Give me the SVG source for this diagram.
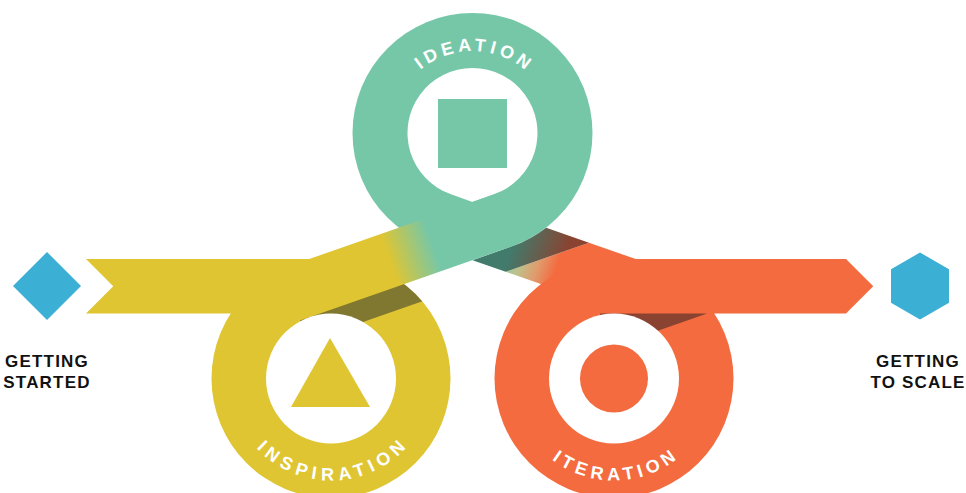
<svg xmlns="http://www.w3.org/2000/svg" width="966" height="493" viewBox="0 0 966 493">
  <style>
    .yellow { fill: #dfc532; }
    .teal { fill: #76c7a8; }
    .orange { fill: #f36b3f; }
    .blue { fill: #3bb0d4; }
    .hole { fill: #ffffff; }
    .ring-label { font-family: "Liberation Sans", Arial, sans-serif; font-weight: 700; font-size: 18px; fill: #ffffff; }
    .end-label { font-family: "Liberation Sans", Arial, sans-serif; font-weight: 700; font-size: 17px; fill: #111111; letter-spacing: 1.2px; text-anchor: middle; }
  </style>
  <defs>
    <linearGradient id="gAsc" gradientUnits="userSpaceOnUse" x1="392" y1="268" x2="436" y2="253">
      <stop offset="0" stop-color="#dfc532"/>
      <stop offset="1" stop-color="#76c7a8"/>
    </linearGradient>
    <linearGradient id="gDescLight" gradientUnits="userSpaceOnUse" x1="500" y1="270" x2="550" y2="287">
      <stop offset="0" stop-color="#8fc79c"/>
      <stop offset="0.3" stop-color="#bcc38c"/>
      <stop offset="0.65" stop-color="#e09c6e"/>
      <stop offset="1" stop-color="#f36b3f"/>
    </linearGradient>
    <linearGradient id="gDescDark" gradientUnits="userSpaceOnUse" x1="515" y1="240" x2="565" y2="257">
      <stop offset="0" stop-color="#427a6b"/>
      <stop offset="1" stop-color="#8a4331"/>
    </linearGradient>
    <clipPath id="clipYellow"><circle cx="331" cy="378.5" r="119.5"/></clipPath>
    <clipPath id="clipOrange"><circle cx="614" cy="378.5" r="119.5"/></clipPath>
    <path id="arcIdeation" d="M 390.5,133 A 82 82 0 0 1 554.5,133"/>
    <path id="arcInspiration" d="M 229,378.5 A 102 102 0 0 0 433,378.5"/>
    <path id="arcIteration" d="M 512,378.5 A 102 102 0 0 0 716,378.5"/>
  </defs>

  <!-- Ideation node (drawn beneath the crossing ribbon) -->
  <g id="node-ideation">
    <circle class="teal" cx="472.5" cy="133" r="120"/>
    <path class="hole" d="M 493.98,194.35 L 472.5,201.9 L 451.02,194.35 A 65 65 0 1 1 493.98,194.35 Z"/>
    <rect class="teal" x="438" y="99" width="69" height="69"/>
    <text class="ring-label" letter-spacing="4.1"><textPath href="#arcIdeation" startOffset="130.9" text-anchor="middle">IDEATION</textPath></text>
  </g>

  <!-- Ribbon connectors -->
  <g id="connectors">
    <path fill="url(#gDescLight)" d="M 505.7,271.8 L 635.5,317.2 L 635,258.8 L 589,242.65 Z"/>
    <path fill="url(#gDescDark)" d="M 505.7,271.8 L 589,242.65 L 546.2,227.7 A 120 120 0 0 1 512.1,246.3 L 472.5,260.2 Z"/>
    <polygon class="yellow" points="86,259 320,259 320,313.5 86,313.5 113.25,286.25"/>
    <polygon fill="url(#gAsc)" points="300,262.26 515,187 512.1,246.3 309.52,317.17"/>
    <polygon class="orange" points="600,259 846,259 873.25,286.25 846,313.5 600,313.5"/>
  </g>

  <!-- Iteration node -->
  <g id="node-iteration">
    <circle class="orange" cx="614" cy="378.5" r="119.5"/>
    <polygon fill="#8a4331" clip-path="url(#clipOrange)" points="600,313.5 707.1,313.5 600,351"/>
    <circle class="hole" cx="614" cy="378.5" r="65"/>
    <circle class="orange" cx="614" cy="378.5" r="34"/>
    <text class="ring-label" letter-spacing="4.8"><textPath href="#arcIteration" startOffset="162.6" text-anchor="middle">ITERATION</textPath></text>
  </g>

  <!-- Inspiration node -->
  <g id="node-inspiration">
    <circle class="yellow" cx="331" cy="378.5" r="119.5"/>
    <polygon fill="#807730" clip-path="url(#clipYellow)" points="300,320.53 460,264.53 460,288.05 300,344.05"/>
    <circle class="hole" cx="331" cy="378.5" r="65"/>
    <polygon class="yellow" points="330,338 291,407 370,407"/>
    <text class="ring-label" letter-spacing="5.3"><textPath href="#arcInspiration" startOffset="162.9" text-anchor="middle">INSPIRATION</textPath></text>
  </g>

  <!-- Getting started -->
  <g id="node-getting-started">
    <polygon class="blue" points="47,252 81,286 47,320 13,286"/>
    <text class="end-label" x="47" y="367">GETTING</text>
    <text class="end-label" x="47" y="388">STARTED</text>
  </g>

  <!-- Getting to scale -->
  <g id="node-getting-to-scale">
    <polygon class="blue" points="920,252.5 949,269.25 949,302.75 920,319.5 891,302.75 891,269.25"/>
    <text class="end-label" x="918" y="367">GETTING</text>
    <text class="end-label" x="918" y="388">TO SCALE</text>
  </g>
</svg>
